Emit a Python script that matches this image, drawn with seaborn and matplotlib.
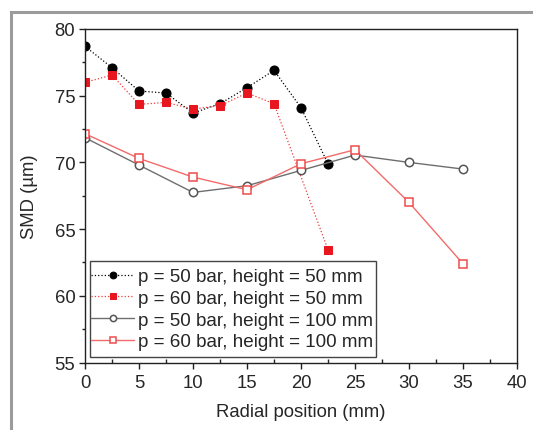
import seaborn as sns
import numpy as np
import matplotlib.pyplot as plt
from matplotlib.patches import Rectangle
from matplotlib.ticker import MultipleLocator

sns.set_style("ticks")
plt.rcParams["font.family"] = ["Liberation Sans", "DejaVu Sans"]

# radial positions (mm)
x_50mm = [0, 2.5, 5, 7.5, 10, 12.5, 15, 17.5, 20, 22.5]
x_60_50mm = [0, 2.5, 5, 7.5, 10, 12.5, 15, 17.5, 22.5]
x_100mm = [0, 5, 10, 15, 20, 25, 30, 35]

# SMD values (um)
smd_p50_h50 = [78.7, 77.1, 75.35, 75.2, 73.7, 74.4, 75.6, 76.9, 74.1, 69.9]
smd_p60_h50 = [76.0, 76.55, 74.35, 74.5, 74.0, 74.25, 75.2, 74.4, 63.45]
smd_p50_h100 = [71.85, 69.8, 67.75, 68.25, 69.4, 70.55, 70.0, 69.5]
smd_p60_h100 = [72.15, 70.3, 68.9, 67.95, 69.9, 70.95, 67.0, 62.4]

labels = [
    "p = 50 bar, height = 50 mm",
    "p = 60 bar, height = 50 mm",
    "p = 50 bar, height = 100 mm",
    "p = 60 bar, height = 100 mm",
]

fig = plt.figure(figsize=(5.33, 4.31), dpi=100)
ax = fig.add_axes([85 / 533, 1 - 363.5 / 431, 432 / 533, 333.5 / 431])

# height = 50 mm, dotted lines with filled markers
sns.lineplot(x=x_50mm, y=smd_p50_h50, ax=ax, color="black", linestyle=":", linewidth=0.9,
             marker="o", markersize=6.5, markerfacecolor="black", markeredgecolor="black",
             label=labels[0])
sns.lineplot(x=x_60_50mm, y=smd_p60_h50, ax=ax, color="#f23b3b", linestyle=":", linewidth=0.9,
             marker="s", markersize=5.5, markerfacecolor="#e8161e", markeredgecolor="#e8161e",
             label=labels[1])
# height = 100 mm, solid lines with open markers
sns.lineplot(x=x_100mm, y=smd_p50_h100, ax=ax, color="#6e6e6e", linestyle="-", linewidth=1.0,
             marker="o", markersize=6, markerfacecolor="white", markeredgecolor="#555555",
             markeredgewidth=1.1, label=labels[2])
sns.lineplot(x=x_100mm, y=smd_p60_h100, ax=ax, color="#f36a6a", linestyle="-", linewidth=1.0,
             marker="s", markersize=5.5, markerfacecolor="white", markeredgecolor="#ee4d4d",
             markeredgewidth=1.1, label=labels[3])

ax.set_xlim(0, 40)
ax.set_ylim(55, 80)
ax.xaxis.set_major_locator(MultipleLocator(5))
ax.xaxis.set_minor_locator(MultipleLocator(2.5))
ax.yaxis.set_major_locator(MultipleLocator(5))
ax.yaxis.set_minor_locator(MultipleLocator(2.5))

ax.set_xlabel("Radial position (mm)", fontsize=13.3, labelpad=9)
ax.set_ylabel("SMD (\u00b5m)", fontsize=13.3, labelpad=12)
ax.tick_params(axis="both", which="major", direction="out", length=4, width=1,
               labelsize=13.3, color="#222222")
ax.tick_params(axis="x", which="major", pad=4)
ax.tick_params(axis="y", which="major", pad=3)
ax.tick_params(axis="x", which="minor", direction="in", length=3, width=1, color="#222222")
ax.tick_params(axis="y", which="minor", direction="out", length=2.5, width=1, color="#222222")
for s in ax.spines.values():
    s.set_visible(True)
    s.set_color("#222222")
    s.set_linewidth(1.0)

# legend entries without frame, box drawn separately (Origin-style padding)
leg = ax.legend(loc="center left", bbox_to_anchor=(0.014, 0.160), fontsize=13.6,
                frameon=False, handlelength=2.3, handletextpad=0.2, labelspacing=0.24,
                borderpad=0, borderaxespad=0, markerscale=0.75)
ax.add_patch(Rectangle((5 / 432, 5.5 / 333.5), 286 / 432, 96 / 333.5,
                       transform=ax.transAxes, fill=False, edgecolor="#444444",
                       linewidth=1.0, zorder=5))

# grey outer frame
fig.patches.append(Rectangle((10.5 / 533, -0.1), 1.2, 1.1 - 12.5 / 431,
                             transform=fig.transFigure, fill=False,
                             edgecolor="#9b9b9b", linewidth=2.2))

fig.savefig("out.png", dpi=100)
